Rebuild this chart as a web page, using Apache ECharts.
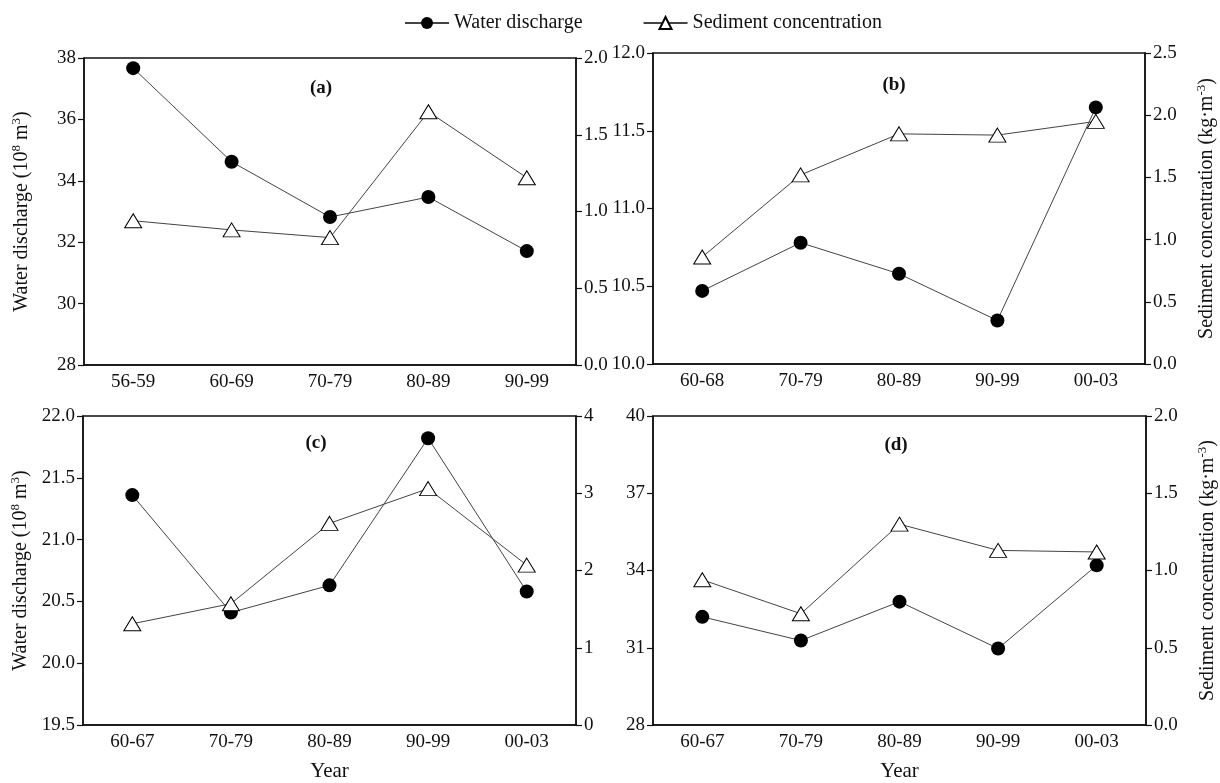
<!DOCTYPE html>
<html>
<head>
<meta charset="utf-8">
<script src="https://cdn.jsdelivr.net/npm/echarts@6/dist/echarts.min.js"></script>
<style>html,body{margin:0;padding:0;background:#fff}#c{width:1220px;height:783px}</style>
</head>
<body>
<div id="c"></div>
<script>
// ---- data ----
const catsA = ['56-59','60-69','70-79','80-89','90-99'];
const catsB = ['60-68','70-79','80-89','90-99','00-03'];
const catsC = ['60-67','70-79','80-89','90-99','00-03'];
const catsD = ['60-67','70-79','80-89','90-99','00-03'];

const waterA = [37.67, 34.62, 32.82, 33.47, 31.71];
const sedA   = [0.94, 0.88, 0.83, 1.65, 1.22];
const waterB = [10.47, 10.78, 10.58, 10.28, 11.65];
const sedB   = [0.86, 1.52, 1.85, 1.84, 1.95];
const waterC = [21.36, 20.41, 20.63, 21.82, 20.58];
const sedC   = [1.31, 1.57, 2.61, 3.06, 2.07];
const waterD = [32.20, 31.28, 32.79, 30.97, 34.20];
const sedD   = [0.94, 0.72, 1.30, 1.13, 1.12];

const ticksDLeft = [28, 31, 34, 37, 40];
const panelLabels = ['(a)','(b)','(c)','(d)'];

// ---- chart ----
const FONT = '"Liberation Serif", "Times New Roman", serif';
const black = '#111';
const chart = echarts.init(document.getElementById('c'), null, {renderer:'canvas'});

const grids = [
  {left: 84, top: 58, width: 492, height: 307},
  {left: 653, top: 53, width: 492, height: 311},
  {left: 83, top: 416, width: 493, height: 311},
  {left: 653, top: 416, width: 493, height: 311}
];

const richName = {
  n: {fontFamily: FONT, fontSize: 20, color: black, lineHeight: 24},
  s: {fontFamily: FONT, fontSize: 13, color: black, verticalAlign: 'top', lineHeight: 24, padding: [0,0,9,0]}
};
const waterName = '{n|Water discharge (10}{s|8}{n| m}{s|3}{n|)}';
const sedName = '{n|Sediment concentration (kg·m}{s|-3}{n|)}';

const LABEL_SIZE = 19;

function xAxis(i, cats, showName) {
  return {
    type: 'category', gridIndex: i, data: cats, boundaryGap: true,
    axisLine: {lineStyle: {color: black, width: 1.5}},
    axisTick: {alignWithLabel: true, length: 6, lineStyle: {color: black, width: 1.2}},
    axisLabel: {fontFamily: FONT, fontSize: LABEL_SIZE, color: black, margin: 8},
    name: showName ? 'Year' : '', nameLocation: 'middle', nameGap: 36,
    nameTextStyle: {fontFamily: FONT, fontSize: 21, color: black},
    splitLine: {show: false}
  };
}
function yAxis(i, pos, min, max, interval, digits, name, extra) {
  const ax = {
    type: 'value', gridIndex: i, position: pos, min: min, max: max, interval: interval,
    axisLine: {show: true, lineStyle: {color: black, width: 1.5}},
    axisTick: {show: true, length: 6, lineStyle: {color: black, width: 1.2}},
    axisLabel: {fontFamily: FONT, fontSize: LABEL_SIZE, color: black, margin: 8,
      formatter: v => v.toFixed(digits)},
    splitLine: {show: false},
    name: name || '', nameLocation: 'middle', nameRotate: 90,
    nameGap: 50,
    nameTextStyle: {rich: richName}
  };
  return Object.assign(ax, extra || {});
}

const waterStyle = (xi, yi, data) => ({
  name: 'Water discharge', type: 'line', xAxisIndex: xi, yAxisIndex: yi, data: data,
  symbol: 'circle', symbolSize: 14, z: 2,
  itemStyle: {color: '#000', borderColor: '#000', borderWidth: 0},
  lineStyle: {color: '#444', width: 1}
});
const sedStyle = (xi, yi, data) => ({
  name: 'Sediment concentration', type: 'line', xAxisIndex: xi, yAxisIndex: yi, data: data,
  symbol: 'triangle', symbolSize: [17, 14], z: 3,
  itemStyle: {color: '#fff', borderColor: '#000', borderWidth: 1},
  lineStyle: {color: '#444', width: 1}
});

const labelPos = [[321, 88], [894, 85], [316, 443], [896, 445]];

const option = {
  backgroundColor: '#fff',
  animation: false,
  legend: {
    left: 399, top: 8, itemWidth: 44, itemHeight: 15, itemGap: 60,
    textStyle: {fontFamily: FONT, fontSize: 20, color: black},
    data: ['Water discharge', 'Sediment concentration']
  },
  grid: grids.map(g => Object.assign({show: true, borderColor: black, borderWidth: 1.5, backgroundColor: 'transparent'}, g)),
  xAxis: [xAxis(0, catsA, false), xAxis(1, catsB, false), xAxis(2, catsC, true), xAxis(3, catsD, true)],
  yAxis: [
    yAxis(0, 'left', 28, 38, 2, 0, waterName),
    yAxis(0, 'right', 0, 2, 0.5, 1, ''),
    yAxis(1, 'left', 10, 12, 0.5, 1, ''),
    yAxis(1, 'right', 0, 2.5, 0.5, 1, sedName),
    yAxis(2, 'left', 19.5, 22, 0.5, 1, waterName),
    yAxis(2, 'right', 0, 4, 1, 0, ''),
    yAxis(3, 'left', 28, 40, 3, 0, '', {
      axisTick: {show: true, length: 6, lineStyle: {color: black, width: 1.2}, customValues: ticksDLeft},
      axisLabel: {fontFamily: FONT, fontSize: LABEL_SIZE, color: black, margin: 8, customValues: ticksDLeft, formatter: v => String(v)}
    }),
    yAxis(3, 'right', 0, 2, 0.5, 1, sedName)
  ],
  series: [
    waterStyle(0, 0, waterA), sedStyle(0, 1, sedA),
    waterStyle(1, 2, waterB), sedStyle(1, 3, sedB),
    waterStyle(2, 4, waterC), sedStyle(2, 5, sedC),
    waterStyle(3, 6, waterD), sedStyle(3, 7, sedD)
  ],
  graphic: panelLabels.map((t, i) => ({
    type: 'text', x: labelPos[i][0], y: labelPos[i][1], z: 10,
    style: {text: t, font: 'bold 19px ' + FONT, fill: black, textAlign: 'center', textVerticalAlign: 'middle'}
  }))
};
chart.setOption(option);
</script>
</body>
</html>
